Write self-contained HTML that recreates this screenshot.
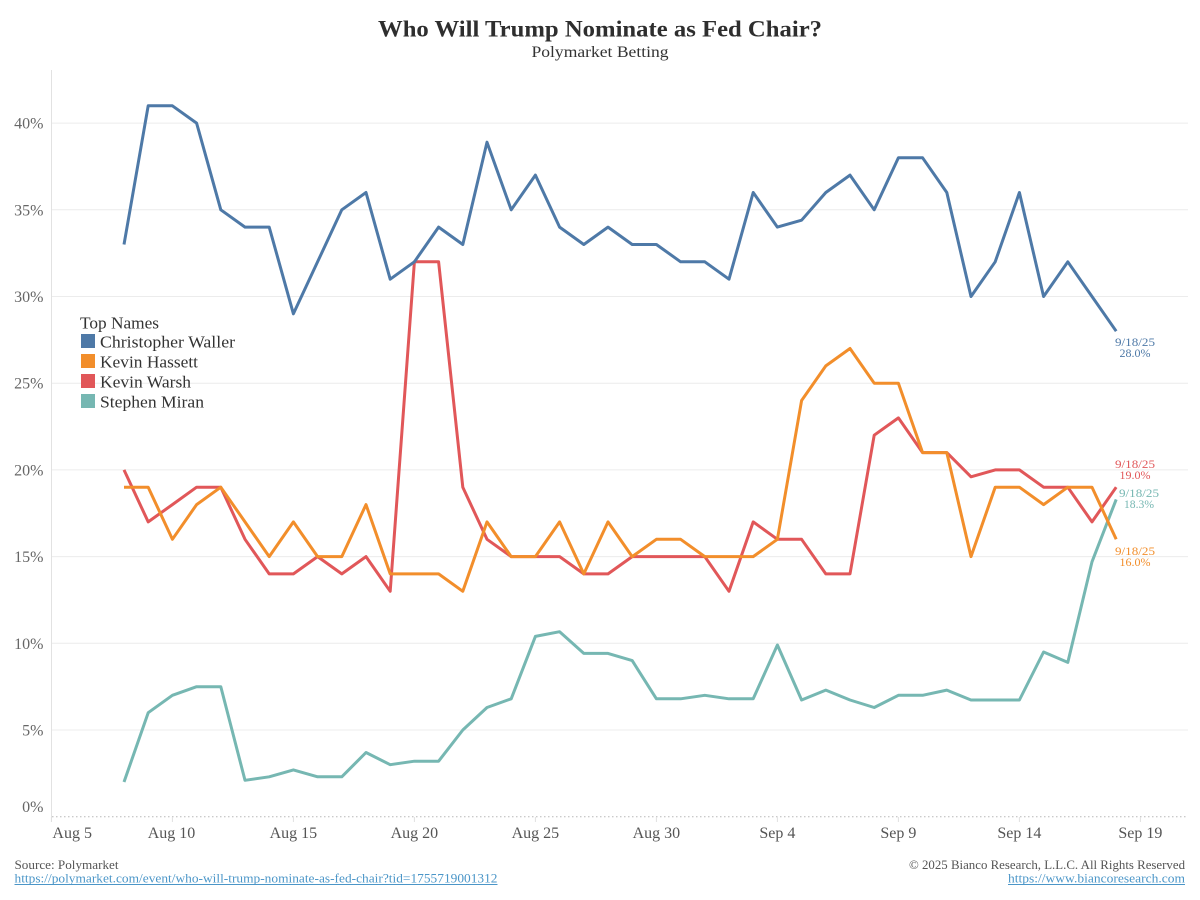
<!DOCTYPE html>
<html>
<head>
<meta charset="utf-8">
<style>
  html, body { margin: 0; padding: 0; background: #ffffff; }
  svg { display: block; }
  text { font-family: "Liberation Serif", "DejaVu Serif", serif; }
</style>
</head>
<body>
<svg width="1200" height="900" viewBox="0 0 1200 900" xmlns="http://www.w3.org/2000/svg">
  <rect x="0" y="0" width="1200" height="900" fill="#ffffff"/>

  <!-- Title -->
  <text x="600" y="36.5" text-anchor="middle" font-size="23" font-weight="bold" fill="#2e2e2e" textLength="444" lengthAdjust="spacingAndGlyphs">Who Will Trump Nominate as Fed Chair?</text>
  <text x="600" y="57" text-anchor="middle" font-size="16" fill="#333333" textLength="137" lengthAdjust="spacingAndGlyphs">Polymarket Betting</text>

  <!-- Gridlines -->
  <g stroke="#ececec" stroke-width="1">
    <line x1="52" y1="123.1" x2="1188" y2="123.1"/>
    <line x1="52" y1="209.8" x2="1188" y2="209.8"/>
    <line x1="52" y1="296.5" x2="1188" y2="296.5"/>
    <line x1="52" y1="383.2" x2="1188" y2="383.2"/>
    <line x1="52" y1="469.9" x2="1188" y2="469.9"/>
    <line x1="52" y1="556.6" x2="1188" y2="556.6"/>
    <line x1="52" y1="643.3" x2="1188" y2="643.3"/>
    <line x1="52" y1="730" x2="1188" y2="730"/>
  </g>
  <!-- zero line dotted -->
  <line x1="52" y1="816.7" x2="1188" y2="816.7" stroke="#b8b8b8" stroke-width="1" stroke-dasharray="1.5,2.5"/>
  <!-- vertical axis line -->
  <line x1="51.5" y1="70" x2="51.5" y2="822" stroke="#e2e2e2" stroke-width="1"/>

  <!-- x ticks -->
  <g stroke="#e0e0e0" stroke-width="1">
    <line x1="51.4" y1="817" x2="51.4" y2="822"/>
    <line x1="172.4" y1="817" x2="172.4" y2="822"/>
    <line x1="293.4" y1="817" x2="293.4" y2="822"/>
    <line x1="414.4" y1="817" x2="414.4" y2="822"/>
    <line x1="535.4" y1="817" x2="535.4" y2="822"/>
    <line x1="656.4" y1="817" x2="656.4" y2="822"/>
    <line x1="777.4" y1="817" x2="777.4" y2="822"/>
    <line x1="898.4" y1="817" x2="898.4" y2="822"/>
    <line x1="1019.4" y1="817" x2="1019.4" y2="822"/>
    <line x1="1140.4" y1="817" x2="1140.4" y2="822"/>
  </g>

  <!-- Y labels -->
  <g font-size="16" fill="#666666" text-anchor="end">
    <text x="43.5" y="128.6">40%</text>
    <text x="43.5" y="215.3">35%</text>
    <text x="43.5" y="302">30%</text>
    <text x="43.5" y="388.7">25%</text>
    <text x="43.5" y="475.4">20%</text>
    <text x="43.5" y="562.1">15%</text>
    <text x="43.5" y="648.8">10%</text>
    <text x="43.5" y="735.5">5%</text>
    <text x="43.5" y="812">0%</text>
  </g>

  <!-- X labels -->
  <g font-size="16" fill="#555555" text-anchor="middle">
    <text x="52.4" y="838" text-anchor="start">Aug 5</text>
    <text x="171.5" y="838">Aug 10</text>
    <text x="293.4" y="838">Aug 15</text>
    <text x="414.4" y="838">Aug 20</text>
    <text x="535.4" y="838">Aug 25</text>
    <text x="656.4" y="838">Aug 30</text>
    <text x="777.4" y="838">Sep 4</text>
    <text x="898.4" y="838">Sep 9</text>
    <text x="1019.4" y="838">Sep 14</text>
    <text x="1140.4" y="838">Sep 19</text>
  </g>

  <!-- Series -->
  <g fill="none" stroke-width="3" stroke-linejoin="round" stroke-linecap="butt">
    <!-- Kevin Warsh -->
    <polyline stroke="#e15759" points="124,469.9 148.2,521.9 172.4,504.6 196.6,487.2 220.8,487.2 245,539.3 269.2,573.9 293.4,573.9 317.6,556.6 341.8,573.9 366,556.6 390.2,591.3 414.4,261.8 438.6,261.8 462.8,487.2 487,539.3 511.2,556.6 535.4,556.6 559.6,556.6 583.8,573.9 608,573.9 632.2,556.6 656.4,556.6 680.6,556.6 704.8,556.6 729,591.3 753.2,521.9 777.4,539.3 801.6,539.3 825.8,573.9 850,573.9 874.2,435.2 898.4,417.9 922.6,452.6 946.8,452.6 971,476.8 995.2,469.9 1019.4,469.9 1043.6,487.2 1067.8,487.2 1092,521.9 1116.2,487.2"/>
    <!-- Stephen Miran -->
    <polyline stroke="#76b7b2" points="124,782 148.2,712.7 172.4,695.3 196.6,686.7 220.8,686.7 245,780.3 269.2,776.8 293.4,769.9 317.6,776.8 341.8,776.8 366,752.5 390.2,764.7 414.4,761.2 438.6,761.2 462.8,730 487,707.5 511.2,698.8 535.4,636.4 559.6,631.7 583.8,653.4 608,653.4 632.2,660.6 656.4,698.8 680.6,698.8 704.8,695.3 729,698.8 753.2,698.8 777.4,645 801.6,700 825.8,690.1 850,700 874.2,707.5 898.4,695.3 922.6,695.3 946.8,690.1 971,700 995.2,700 1019.4,700 1043.6,652 1067.8,662.4 1092,561.8 1116.2,499.4"/>
    <!-- Kevin Hassett -->
    <polyline stroke="#f28e2b" points="124,487.2 148.2,487.2 172.4,539.3 196.6,504.6 220.8,487.2 245,521.9 269.2,556.6 293.4,521.9 317.6,556.6 341.8,556.6 366,504.6 390.2,573.9 414.4,573.9 438.6,573.9 462.8,591.3 487,521.9 511.2,556.6 535.4,556.6 559.6,521.9 583.8,573.9 608,521.9 632.2,556.6 656.4,539.3 680.6,539.3 704.8,556.6 729,556.6 753.2,556.6 777.4,539.3 801.6,400.5 825.8,365.9 850,348.5 874.2,383.2 898.4,383.2 922.6,452.6 946.8,452.6 971,556.6 995.2,487.2 1019.4,487.2 1043.6,504.6 1067.8,487.2 1092,487.2 1116.2,539.3"/>
    <!-- Christopher Waller -->
    <polyline stroke="#4e79a7" points="124,244.5 148.2,105.8 172.4,105.8 196.6,123.1 220.8,209.8 245,227.1 269.2,227.1 293.4,313.8 317.6,261.8 341.8,209.8 366,192.5 390.2,279.2 414.4,261.8 438.6,227.1 462.8,244.5 487,142.2 511.2,209.8 535.4,175.1 559.6,227.1 583.8,244.5 608,227.1 632.2,244.5 656.4,244.5 680.6,261.8 704.8,261.8 729,279.2 753.2,192.5 777.4,227.1 801.6,220.2 825.8,192.5 850,175.1 874.2,209.8 898.4,157.8 922.6,157.8 946.8,192.5 971,296.5 995.2,261.8 1019.4,192.5 1043.6,296.5 1067.8,261.8 1092,296.5 1116.2,331.2"/>
  </g>

  <!-- End labels -->
  <g font-size="12" text-anchor="middle" lengthAdjust="spacingAndGlyphs">
    <text x="1135" y="346" fill="#4e79a7" textLength="40" lengthAdjust="spacingAndGlyphs">9/18/25</text>
    <text x="1135" y="357" fill="#4e79a7" textLength="31" lengthAdjust="spacingAndGlyphs">28.0%</text>

    <text x="1135" y="468" fill="#e15759" textLength="40" lengthAdjust="spacingAndGlyphs">9/18/25</text>
    <text x="1135" y="479" fill="#e15759" textLength="31" lengthAdjust="spacingAndGlyphs">19.0%</text>

    <text x="1139" y="497" fill="#76b7b2" textLength="40" lengthAdjust="spacingAndGlyphs">9/18/25</text>
    <text x="1139" y="508" fill="#76b7b2" textLength="30" lengthAdjust="spacingAndGlyphs">18.3%</text>

    <text x="1135" y="555" fill="#f28e2b" textLength="40" lengthAdjust="spacingAndGlyphs">9/18/25</text>
    <text x="1135" y="566" fill="#f28e2b" textLength="31" lengthAdjust="spacingAndGlyphs">16.0%</text>
  </g>

  <!-- Legend -->
  <text x="80" y="328.3" font-size="17" fill="#333333" textLength="79" lengthAdjust="spacingAndGlyphs">Top Names</text>
  <rect x="81" y="334" width="14" height="14" fill="#4e79a7"/>
  <rect x="81" y="354" width="14" height="14" fill="#f28e2b"/>
  <rect x="81" y="374" width="14" height="14" fill="#e15759"/>
  <rect x="81" y="394" width="14" height="14" fill="#76b7b2"/>
  <text x="100" y="347.3" font-size="17" fill="#333333" textLength="135" lengthAdjust="spacingAndGlyphs">Christopher Waller</text>
  <text x="100" y="367.3" font-size="17" fill="#333333" textLength="98" lengthAdjust="spacingAndGlyphs">Kevin Hassett</text>
  <text x="100" y="387.3" font-size="17" fill="#333333" textLength="91" lengthAdjust="spacingAndGlyphs">Kevin Warsh</text>
  <text x="100" y="407.3" font-size="17" fill="#333333" textLength="104" lengthAdjust="spacingAndGlyphs">Stephen Miran</text>

  <!-- Footer -->
  <text x="14.5" y="869" font-size="13" fill="#555555" textLength="104" lengthAdjust="spacingAndGlyphs">Source: Polymarket</text>
  <text x="14.5" y="882.5" font-size="13" fill="#4b96c8" textLength="483" lengthAdjust="spacingAndGlyphs">https://polymarket.com/event/who-will-trump-nominate-as-fed-chair?tid=1755719001312</text>
  <line x1="14.5" y1="884.5" x2="497.5" y2="884.5" stroke="#4b96c8" stroke-width="1"/>

  <text x="1185" y="869" font-size="13" fill="#555555" text-anchor="end" textLength="276" lengthAdjust="spacingAndGlyphs">© 2025 Bianco Research, L.L.C. All Rights Reserved</text>
  <text x="1185" y="882.5" font-size="13" fill="#4b96c8" text-anchor="end" textLength="177" lengthAdjust="spacingAndGlyphs">https://www.biancoresearch.com</text>
  <line x1="1008" y1="884.5" x2="1185" y2="884.5" stroke="#4b96c8" stroke-width="1"/>
</svg>
</body>
</html>
